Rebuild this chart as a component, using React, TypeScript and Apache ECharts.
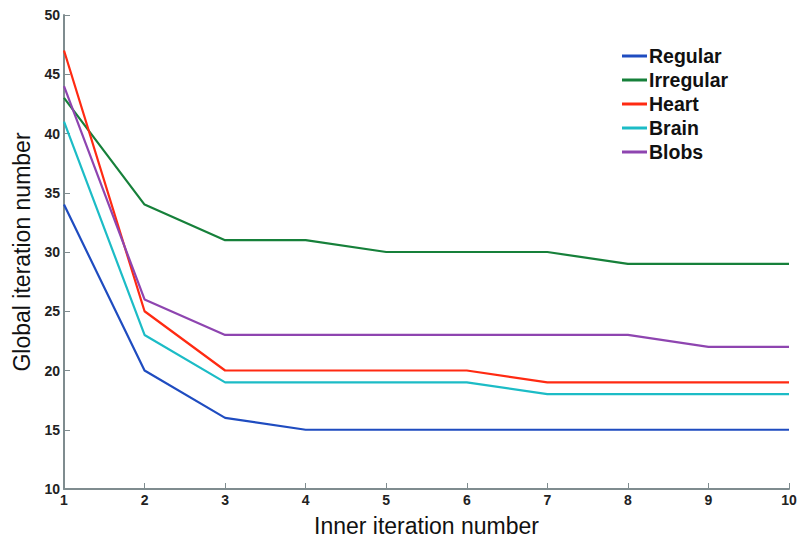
import React, { useEffect, useRef } from "react";
import * as echarts from "echarts";

const xValues = [1, 2, 3, 4, 5, 6, 7, 8, 9, 10];
const seriesNames = ["Regular", "Irregular", "Heart", "Brain", "Blobs"];
const regular = [34, 20, 16, 15, 15, 15, 15, 15, 15, 15];
const irregular = [43, 34, 31, 31, 30, 30, 30, 29, 29, 29];
const heart = [47, 25, 20, 20, 20, 20, 19, 19, 19, 19];
const brain = [41, 23, 19, 19, 19, 19, 18, 18, 18, 18];
const blobs = [44, 26, 23, 23, 23, 23, 23, 23, 22, 22];
const colors = ["#1f4cc0", "#16803a", "#ff2a12", "#1cbcc6", "#8e45b0"];

const FONT = "'Liberation Sans', Arial, Helvetica, sans-serif";

export default function App() {
  const ref = useRef<HTMLDivElement>(null);
  useEffect(() => {
    if (!ref.current) return;
    const chart = echarts.init(ref.current, undefined, { renderer: "svg" });
    const all = [regular, irregular, heart, brain, blobs];
    chart.setOption({
      animation: false,
      backgroundColor: "#ffffff",
      grid: { left: 64, right: 13, top: 15, bottom: 55, containLabel: false, outerBoundsMode: "none" },
      legend: {
        orient: "vertical",
        left: 617,
        top: 41,
        icon: "rect",
        itemWidth: 25,
        itemHeight: 3,
        itemGap: 4,
        textStyle: { fontFamily: FONT, fontSize: 19.5, fontWeight: "bold", color: "#111", padding: [0, 0, 0, -3] },
        data: seriesNames,
      },
      xAxis: {
        type: "value",
        min: 1,
        max: 10,
        interval: 1,
        name: "Inner iteration number",
        nameLocation: "middle",
        nameGap: 25,
        nameTextStyle: { fontFamily: FONT, fontSize: 23, color: "#111" },
        axisLine: { show: true, lineStyle: { color: "#7f8c8f", width: 2 } },
        axisTick: { show: true, inside: true, length: 6, lineStyle: { color: "#7f8c8f", width: 1 } },
        axisLabel: { fontFamily: FONT, fontSize: 14, fontWeight: "bold", color: "#222", margin: 4 },
        splitLine: { show: false },
      },
      yAxis: {
        type: "value",
        min: 10,
        max: 50,
        interval: 5,
        name: "Global iteration number",
        nameLocation: "middle",
        nameGap: 30,
        nameTextStyle: { fontFamily: FONT, fontSize: 23, color: "#111" },
        axisLine: { show: true, lineStyle: { color: "#7f8c8f", width: 2 } },
        axisTick: { show: true, inside: true, length: 6, lineStyle: { color: "#7f8c8f", width: 1 } },
        axisLabel: { fontFamily: FONT, fontSize: 14, fontWeight: "bold", color: "#222", margin: 4 },
        splitLine: { show: false },
      },
      series: seriesNames.map((name, i) => ({
        name,
        type: "line",
        symbol: "none",
        color: colors[i],
        lineStyle: { width: 2.2, color: colors[i] },
        data: xValues.map((x, j) => [x, all[i][j]]),
      })),
    });
    return () => chart.dispose();
  }, []);
  return <div ref={ref} style={{ width: 802, height: 544, position: "absolute", left: 0, top: 0 }} />;
}
